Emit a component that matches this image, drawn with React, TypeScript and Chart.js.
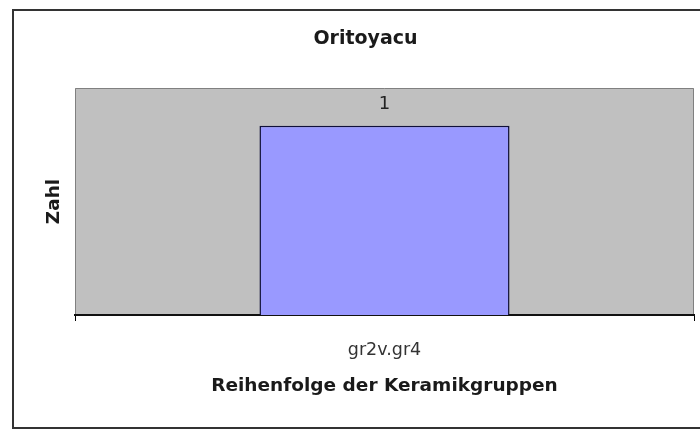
import React, { useEffect, useRef } from "react";
import { Chart, registerables } from "chart.js";

Chart.register(...registerables);

const chartTitle = "Oritoyacu";
const categories = ["gr2v.gr4"];
const seriesValues = [1];
const xAxisTitle = "Reihenfolge der Keramikgruppen";
const yAxisTitle = "Zahl";
const yMin = 0;
const yMax = 1.2;

const framePlugin = {
  id: "frame",
  beforeDraw(chart: any) {
    const { ctx, chartArea } = chart;
    ctx.save();
    ctx.fillStyle = "#ffffff";
    ctx.fillRect(0, 0, chart.width, chart.height);
    ctx.strokeStyle = "#333333";
    ctx.lineWidth = 2;
    ctx.strokeRect(13, 10, 700, 418);
    const { left, top, right, bottom } = chartArea;
    ctx.fillStyle = "#C0C0C0";
    ctx.fillRect(left, top, right - left, bottom - top);
    ctx.strokeStyle = "#808080";
    ctx.lineWidth = 1;
    ctx.beginPath();
    ctx.moveTo(left + 0.5, bottom);
    ctx.lineTo(left + 0.5, top + 0.5);
    ctx.lineTo(right - 0.5, top + 0.5);
    ctx.lineTo(right - 0.5, bottom);
    ctx.stroke();
    ctx.restore();
  },
};

const valueLabelPlugin = {
  id: "valueLabels",
  afterDatasetsDraw(chart: any) {
    const { ctx } = chart;
    ctx.save();
    ctx.font = "18px 'DejaVu Sans'";
    ctx.fillStyle = "#222222";
    ctx.textAlign = "center";
    ctx.textBaseline = "alphabetic";
    chart.data.datasets.forEach((ds: any, i: number) => {
      const meta = chart.getDatasetMeta(i);
      meta.data.forEach((el: any, j: number) => {
        ctx.fillText(String(ds.data[j]), el.x, el.y - 17);
      });
    });
    ctx.restore();
  },
};

export default function App() {
  const ref = useRef<HTMLCanvasElement>(null);
  useEffect(() => {
    if (!ref.current) return;
    Chart.defaults.font.family = "'DejaVu Sans', sans-serif";
    const chart = new Chart(ref.current, {
      type: "bar",
      data: {
        labels: categories,
        datasets: [
          {
            data: seriesValues,
            backgroundColor: "#9999FF",
            borderColor: "#10103a",
            borderWidth: 1.5,
            barPercentage: 0.404,
            categoryPercentage: 1,
          },
        ],
      },
      options: {
        animation: false,
        responsive: false,
        devicePixelRatio: 1,
        layout: { padding: { left: 37, right: 6, top: 0, bottom: 0 } },
        plugins: {
          legend: { display: false },
          tooltip: { enabled: false },
          title: {
            display: true,
            text: chartTitle,
            color: "#1a1a1a",
            font: { family: "'DejaVu Sans'", size: 19, weight: "bold" },
            padding: { top: 27.5, bottom: 37.7 },
          },
        },
        scales: {
          x: {
            afterFit: (s: any) => {
              s.height = 115;
            },
            grid: {
              display: true,
              drawOnChartArea: false,
              drawTicks: true,
              tickLength: 6,
              color: "#000000",
              offset: true,
            },
            border: { display: true, color: "#111111", width: 2 },
            ticks: {
              color: "#333333",
              padding: 19,
              font: { family: "'DejaVu Sans'", size: 17.5 },
            },
            title: {
              display: true,
              text: xAxisTitle,
              color: "#1a1a1a",
              font: { family: "'DejaVu Sans'", size: 18.5, weight: "bold" },
              padding: { top: 0, bottom: 32.7 },
            },
          },
          y: {
            min: yMin,
            max: yMax,
            afterFit: (s: any) => {
              s.width = 38;
            },
            grid: { display: false },
            border: { display: false },
            ticks: { display: false },
            title: {
              display: true,
              text: yAxisTitle,
              color: "#1a1a1a",
              font: { family: "'DejaVu Sans'", size: 18.5, weight: "bold" },
              padding: { top: 6.2, bottom: 0 },
            },
          },
        },
      } as any,
      plugins: [framePlugin, valueLabelPlugin],
    });
    return () => chart.destroy();
  }, []);
  return (
    <div style={{ position: "absolute", left: 0, top: 0, width: 700, height: 430 }}>
      <canvas ref={ref} width={700} height={430} style={{ width: 700, height: 430 }} />
    </div>
  );
}
